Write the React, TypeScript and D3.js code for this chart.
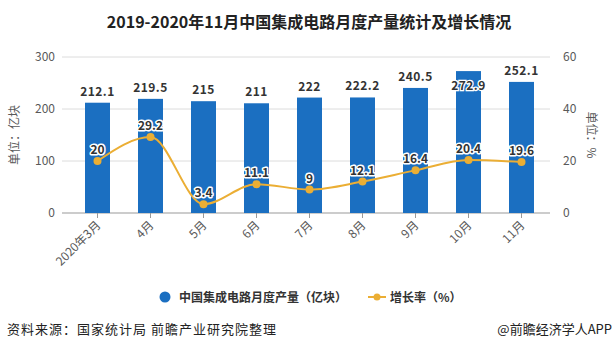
import React from "react";
import * as d3 from "d3";

const categories = ["2020年3月", "4月", "5月", "6月", "7月", "8月", "9月", "10月", "11月"];
const production = [212.1, 219.5, 215, 211, 222, 222.2, 240.5, 272.9, 252.1];
const growth = [20, 29.2, 3.4, 11.1, 9, 12.1, 16.4, 20.4, 19.6];
const leftTicks = [0, 100, 200, 300];
const rightTicks = [0, 20, 40, 60];

const W = 616;
const H = 350;
const FONT = "'Noto Sans CJK SC', 'Microsoft YaHei', sans-serif";
const BLUE = "#1B6FC1";
const ORANGE = "#EBAE34";

export default function App() {
  const x = d3.scaleBand<string>().domain(categories).range([71, 548]).paddingInner(0).paddingOuter(0);
  const yL = d3.scaleLinear().domain([0, 300]).range([213, 57]);
  const yR = d3.scaleLinear().domain([0, 60]).range([213, 57]);
  const barW = 25;
  const cx = (c: string) => (x(c) as number) + x.bandwidth() / 2;

  const line = d3
    .line<number>()
    .x((_, i) => cx(categories[i]))
    .y((d) => yR(d))
    .curve(d3.curveMonotoneX);

  return (
    <svg width={W} height={H} style={{ position: "absolute", left: 0, top: 0, background: "#fff" }} fontFamily={FONT}>
      <rect x={0} y={0} width={W} height={H} fill="#fff" />
      <text x={309} y={28} textAnchor="middle" fontSize={16} fontWeight="bold" fill="#222">
        2019-2020年11月中国集成电路月度产量统计及增长情况
      </text>

      {/* grid */}
      {leftTicks.map((t) => (
        <line key={"g" + t} x1={62} x2={550} y1={yL(t)} y2={yL(t)} stroke={t === 0 ? "#999" : "#dcdcdc"} strokeWidth={1} />
      ))}
      {leftTicks.map((t) => (
        <text key={"l" + t} x={55} y={yL(t) + 4} textAnchor="end" fontSize={12} fill="#595959">
          {t}
        </text>
      ))}
      {rightTicks.map((t) => (
        <text key={"r" + t} x={563} y={yR(t) + 4} textAnchor="start" fontSize={12} fill="#595959">
          {t}
        </text>
      ))}
      <text transform={`translate(19,135) rotate(-90)`} textAnchor="middle" fontSize={12} fill="#595959">
        单位：亿块
      </text>
      <text transform={`translate(587,135) rotate(90)`} textAnchor="middle" fontSize={12} fill="#595959">
        单位：%
      </text>

      {/* bars */}
      {production.map((v, i) => (
        <rect key={"b" + i} x={cx(categories[i]) - barW / 2} y={yL(v)} width={barW} height={yL(0) - yL(v)} fill={BLUE} />
      ))}
      {/* x ticks */}
      {categories.map((c) => (
        <g key={"t" + c}>
          <line x1={cx(c)} x2={cx(c)} y1={213} y2={218} stroke="#999" />
          <text
            transform={`translate(${cx(c) + 4},${226}) rotate(-45)`}
            textAnchor="end"
            fontSize={12}
            fill="#595959"
          >
            {c}
          </text>
        </g>
      ))}
      {/* bar labels */}
      {production.map((v, i) => {
        const top = yL(v);
        const inside = top < 75;
        const ly = inside ? top + 19 : top - 7;
        return (
          <text
            key={"bl" + i}
            x={cx(categories[i])}
            y={ly}
            textAnchor="middle"
            fontSize={12}
            fontWeight="bold"
            fill="#333"
            stroke={inside ? "#fff" : "none"}
            strokeWidth={inside ? 2.5 : 0}
            paintOrder="stroke"
            letterSpacing={0.5}
          >
            {v}
          </text>
        );
      })}

      {/* line */}
      <path d={line(growth) || ""} fill="none" stroke={ORANGE} strokeWidth={2} />
      {growth.map((v, i) => (
        <circle key={"p" + i} cx={cx(categories[i])} cy={yR(v)} r={4} fill={ORANGE} />
      ))}
      {growth.map((v, i) => (
        <text
          key={"pl" + i}
          x={cx(categories[i])}
          y={yR(v) - 7}
          textAnchor="middle"
          fontSize={12}
          fontWeight="bold"
          fill="#333"
          stroke="#fff"
          strokeWidth={3}
          strokeLinejoin="round"
          paintOrder="stroke"
        >
          {v}
        </text>
      ))}

      {/* legend */}
      <circle cx={165} cy={297} r={5.5} fill={BLUE} />
      <text x={179} y={301.5} fontSize={12} fontWeight="bold" fill="#333">
        中国集成电路月度产量（亿块）
      </text>
      <line x1={368} x2={386} y1={297} y2={297} stroke={ORANGE} strokeWidth={2} />
      <circle cx={377} cy={297} r={3.5} fill={ORANGE} />
      <text x={390} y={301.5} fontSize={12} fontWeight="bold" fill="#333">
        增长率（%）
      </text>

      {/* footer */}
      <text x={7} y={334} fontSize={13} letterSpacing={1} fill="#222">
        资料来源：国家统计局 前瞻产业研究院整理
      </text>
      <text x={612} y={334} textAnchor="end" fontSize={13} fill="#222">
        @前瞻经济学人APP
      </text>
    </svg>
  );
}
